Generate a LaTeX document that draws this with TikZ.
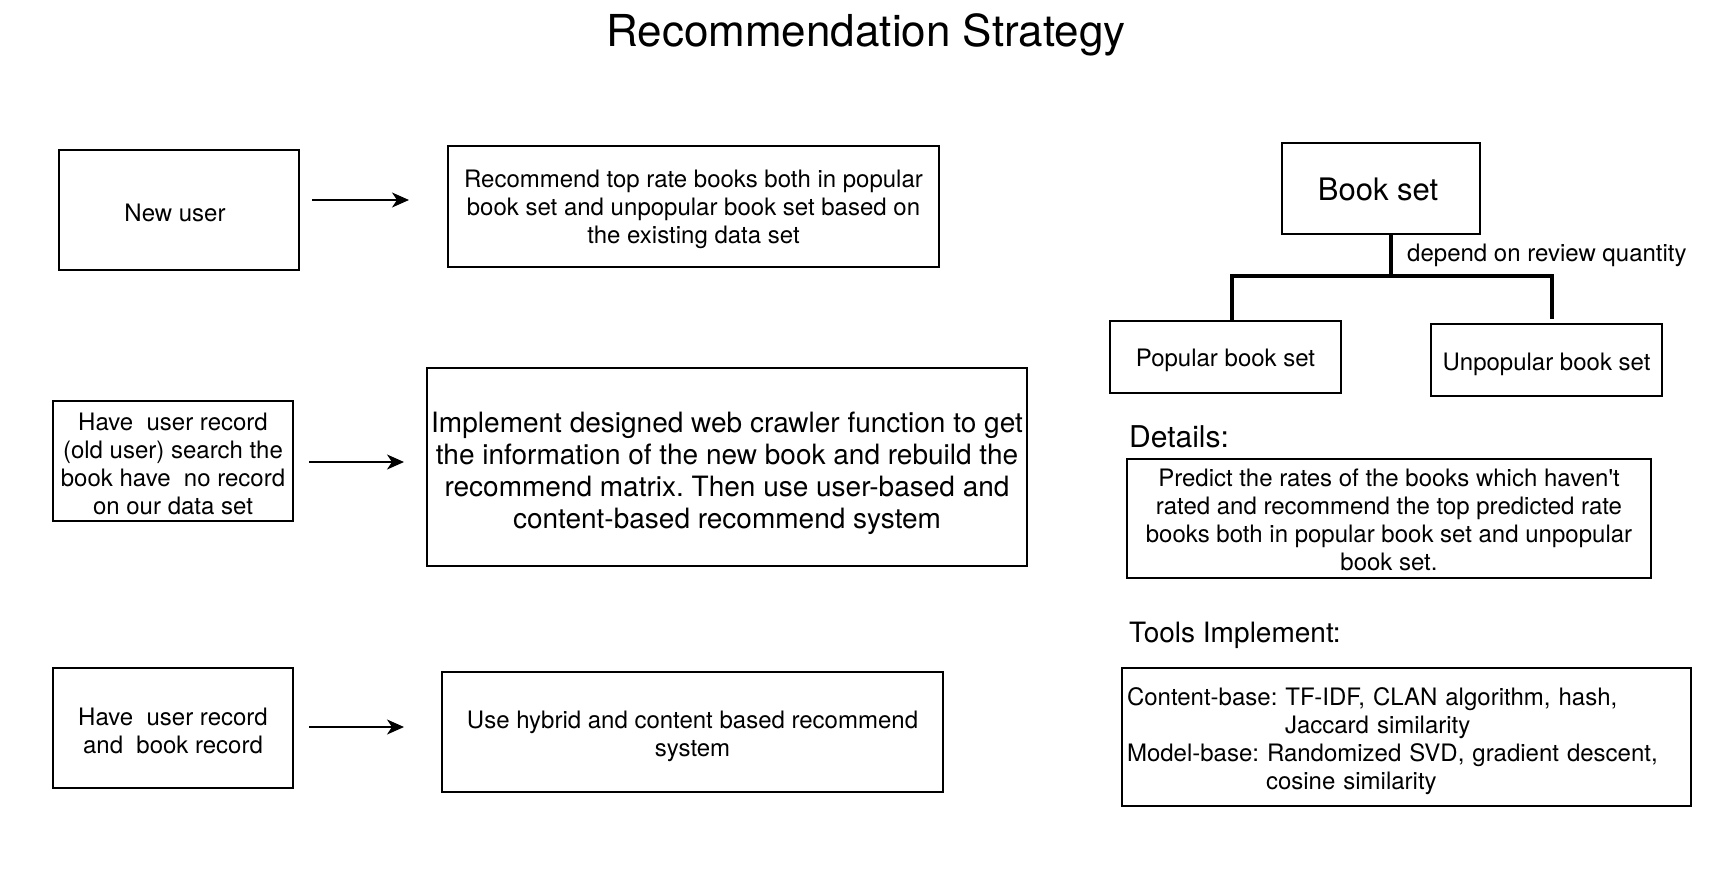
\documentclass[tikz,border=0pt]{standalone}
\usepackage{fontspec}
\setmainfont{TeX Gyre Heros}
\usetikzlibrary{arrows.meta}
\frenchspacing

\begin{document}
\begin{tikzpicture}[x=1pt, y=-1pt,
  txt/.style={font=\fontsize{24}{28}\selectfont},
  box/.style={draw, rectangle, line width=1.8pt, inner sep=0pt},
  inbox/.style={txt, align=center, inner sep=0pt, yshift=-3pt},
  flow/.style={-{Stealth[length=17pt, width=15pt, inset=5pt]}, line width=1.8pt},
  treeline/.style={line width=4pt},
  head/.style={anchor=west, inner sep=0pt}]
\useasboundingbox (0,0) rectangle (1734,886);

\node[font=\fontsize{44}{50}\selectfont] (title) at (866,34.5) {Recommendation Strategy};

% left column: user cases
\node[box, minimum width=240pt, minimum height=120pt, label={[inbox, xshift=-4pt]center:New user}] (newuser) at (179,210) {};
\node[box, minimum width=240pt, minimum height=120pt, label={[inbox]center:{Have \ user record\\(old user) search the\\book have \ no record\\on our data set}}] (olduser) at (173,461) {};
\node[box, minimum width=240pt, minimum height=120pt, label={[inbox]center:{Have \ user record\\and \ book record}}] (both) at (173,728) {};

% middle column: strategies
\node[box, minimum width=491pt, minimum height=121pt, label={[inbox]center:{Recommend top rate books both in popular\\book set and unpopular book set based on\\the existing data set}}] (rec) at (693.5,206.5) {};
\node[box, minimum width=600pt, minimum height=198pt, label={[inbox, yshift=-3pt, font=\fontsize{28}{32}\selectfont]center:{Implement designed web crawler function to get\\the information of the new book and rebuild the\\recommend matrix. Then use user-based and\\content-based recommend system}}] (crawl) at (727,467) {};
\node[box, minimum width=501pt, minimum height=120pt, label={[inbox, yshift=-1pt]center:{Use hybrid and content based recommend\\system}}] (hybrid) at (692.5,732) {};

\coordinate (a1s) at (312,200);
\coordinate (a1e) at (409,200);
\coordinate (a2s) at (309,462);
\coordinate (a2e) at (404,462);
\coordinate (a3s) at (309,727);
\coordinate (a3e) at (404,727);
\draw[flow] (a1s) -- (a1e);
\draw[flow] (a2s) -- (a2e);
\draw[flow] (a3s) -- (a3e);

% right column: book sets
\node[box, minimum width=198pt, minimum height=91pt, label={[inbox, yshift=2pt, xshift=-3pt, font=\fontsize{31}{36}\selectfont]center:Book set}] (bookset) at (1381,188.5) {};
\node[box, minimum width=231pt, minimum height=72pt, label={[inbox]center:Popular book set}] (popular) at (1225.5,357) {};
\node[box, minimum width=231pt, minimum height=72pt, label={[inbox, yshift=-1pt]center:Unpopular book set}] (unpopular) at (1546.5,360) {};

\coordinate (split) at (1391,276);
\coordinate (popin) at (1232,0);
\coordinate (unpopin) at (1552,0);
\draw[treeline] (bookset.south -| split) -- (split);
\draw[treeline, shorten >=4pt] (popular.north -| popin) |- (split) -| (unpopular.north -| unpopin);
\node[head, txt] (depend) at (1407,255) {depend on review quantity};

\node[head, font=\fontsize{30}{36}\selectfont] (details) at (1129,437) {Details:};
\node[box, minimum width=524pt, minimum height=119pt, label={[inbox, yshift=2pt]center:{Predict the rates of the books which haven\textquotesingle t\\rated and recommend the top predicted rate\\books both in popular book set and unpopular\\book set.}}] (detailbox) at (1389,518.5) {};

\node[head, font=\fontsize{28}{34}\selectfont] (tools) at (1129,635) {Tools Implement:};
\node[box, minimum width=569pt, minimum height=138pt, label={[inbox, yshift=-1pt, xshift=3pt, align=left, text width=565pt]center:{Content-base: TF-IDF, CLAN algorithm, hash,\\\hspace*{158pt}Jaccard similarity\\Model-base: Randomized SVD, gradient descent,\\\hspace*{139pt}cosine similarity}}] (toolbox) at (1406.5,737) {};
\end{tikzpicture}
\end{document}
